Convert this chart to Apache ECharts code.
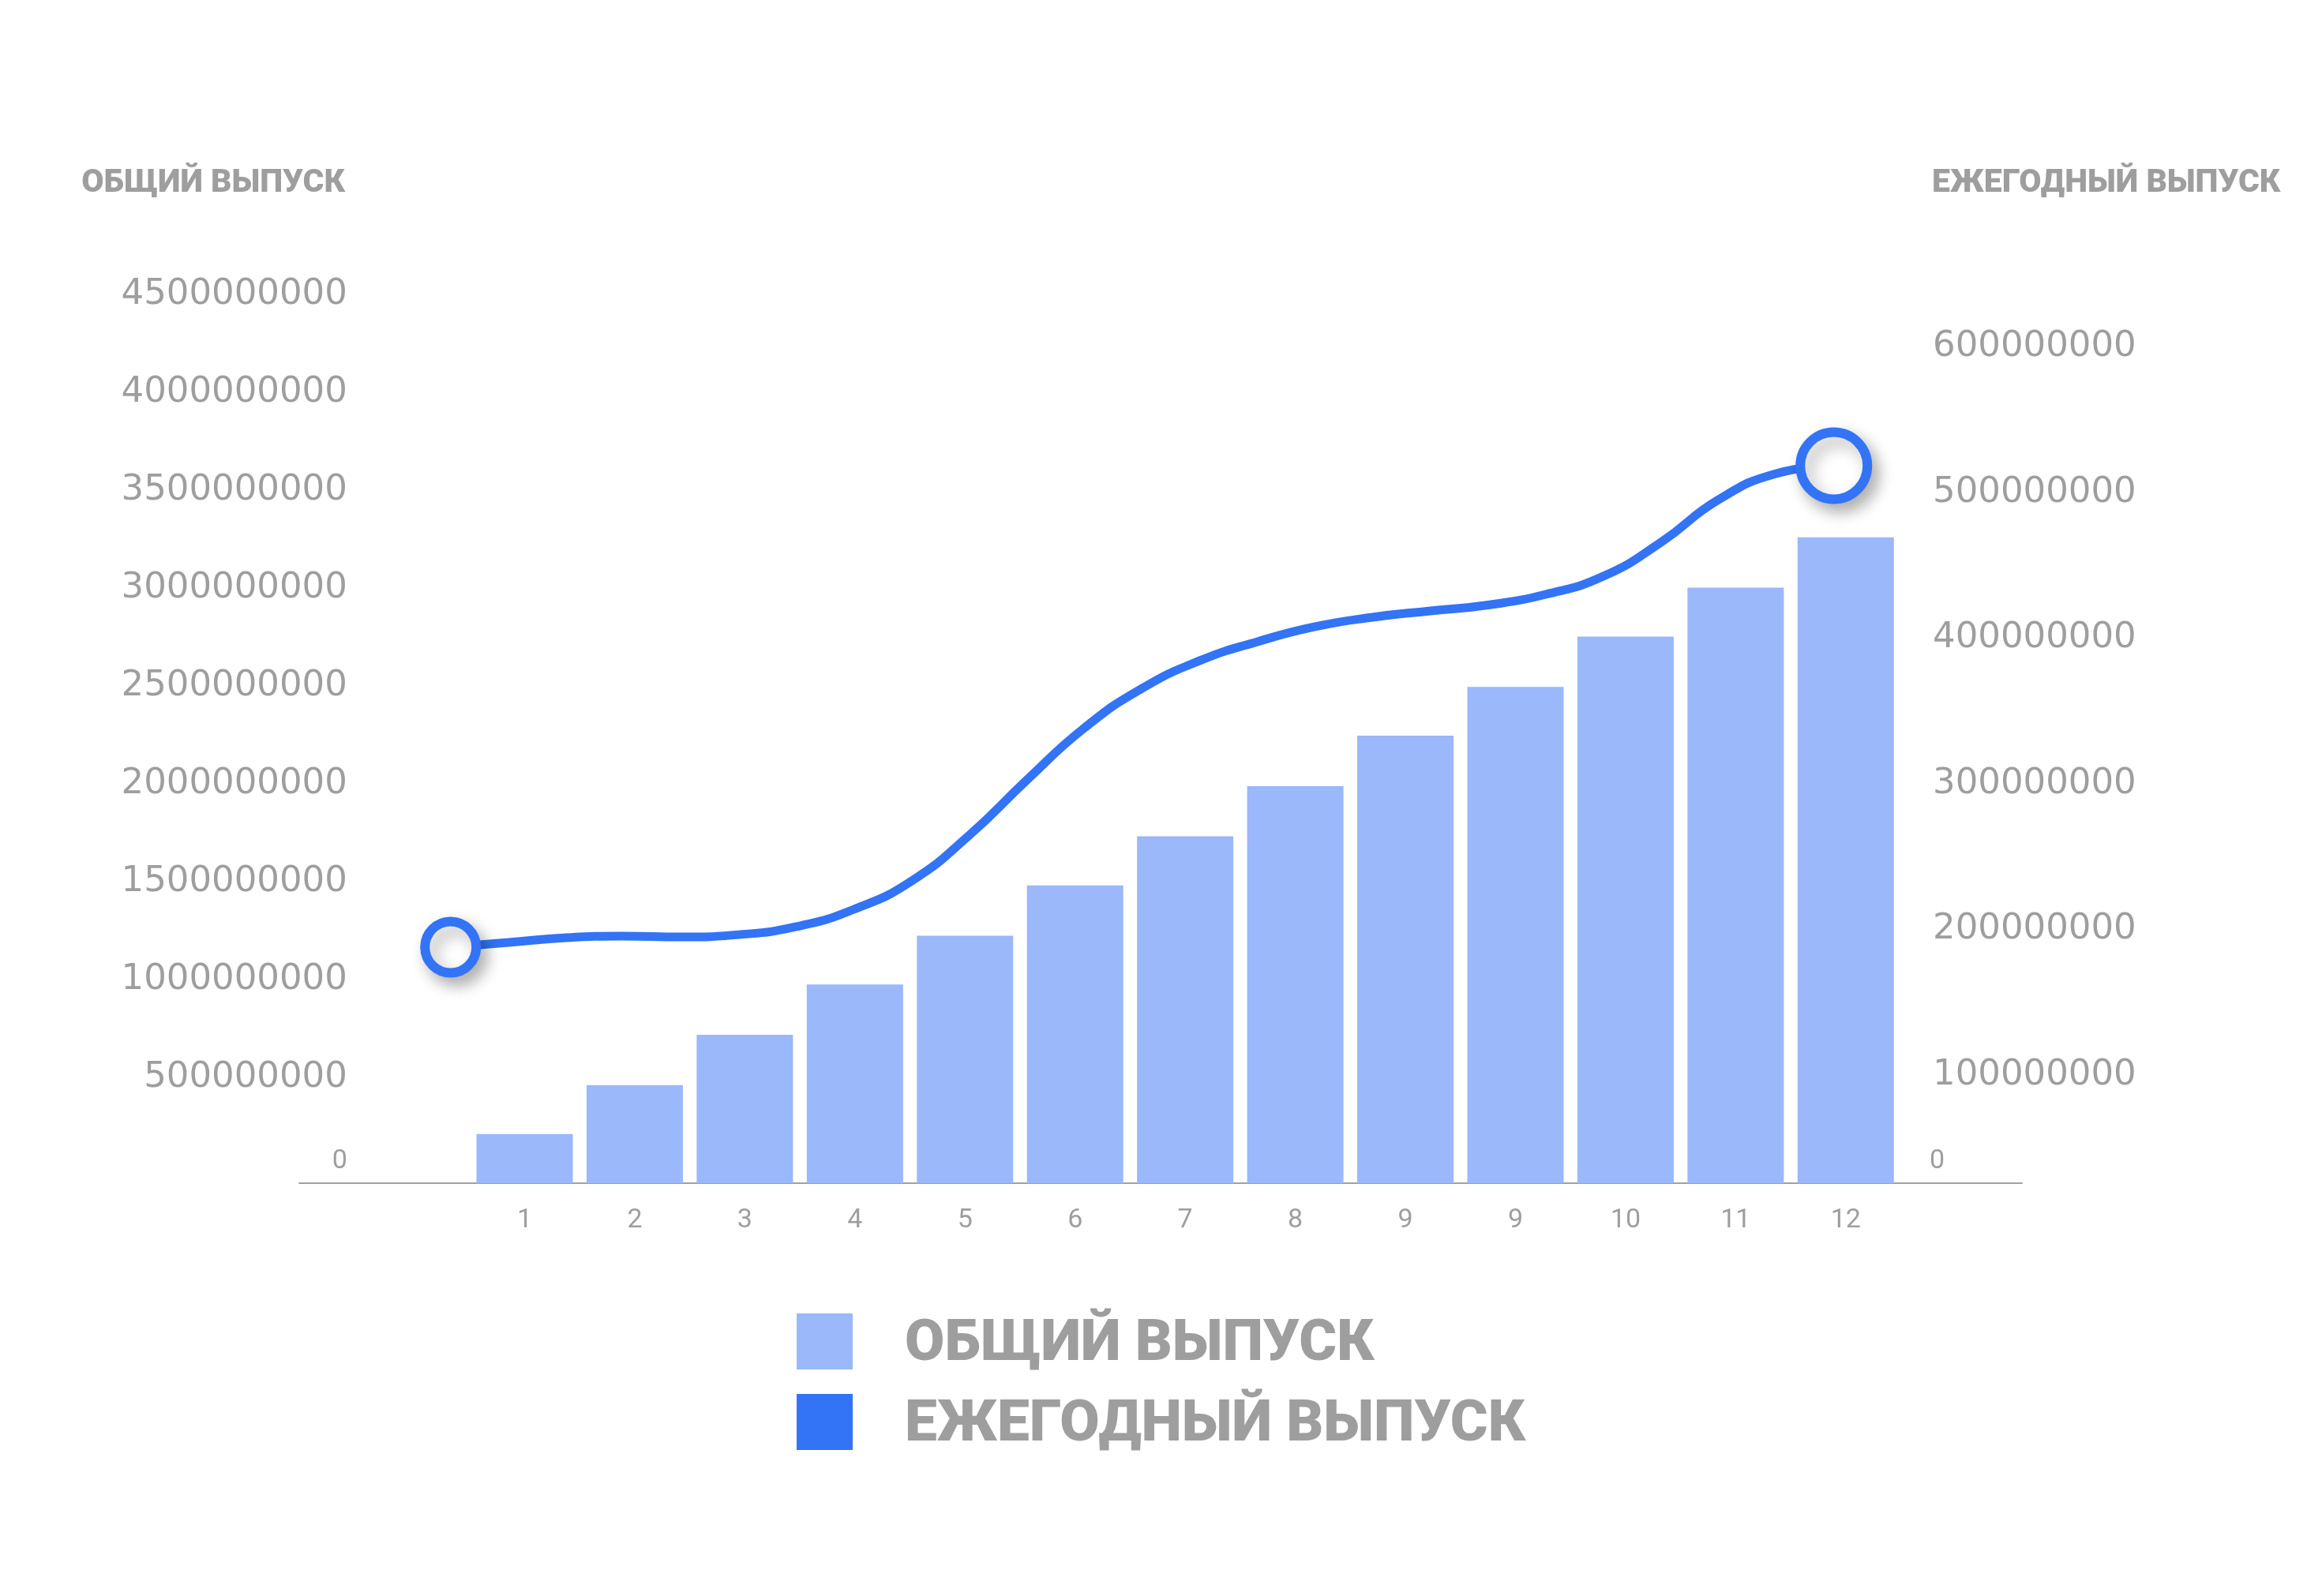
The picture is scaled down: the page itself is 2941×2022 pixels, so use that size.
<!DOCTYPE html>
<html><head><meta charset="utf-8">
<script src="https://cdn.jsdelivr.net/npm/echarts@6/dist/echarts.min.js"></script>
<style>html,body{margin:0;padding:0;background:#ffffff;} #c{width:2941px;height:2022px;}</style>
</head><body><div id="c"></div>
<script>
// ---- data ----
const categories = ['1','2','3','4','5','6','7','8','9','9','10','11','12'];
const totalOutput = [251e6, 501e6, 758e6, 1015e6, 1264e6, 1521e6, 1771e6, 2027e6, 2285e6, 2534e6, 2791e6, 3041e6, 3298e6];
// annual output curve, read at half-period steps (period 0 .. 12)
const annualX = [0, 0.5, 1, 1.5, 2, 2.5, 3, 3.5, 4, 4.5, 5, 5.5, 6, 6.5, 7, 7.5, 8, 8.5, 9, 9.5, 10, 10.5, 11, 11.5, 12];
const annualOutput = [184.6e6, 187.8e6, 191.1e6, 192.2e6, 191.6e6, 193.2e6, 198.7e6, 210.6e6, 230.1e6, 261.5e6,
  299.4e6, 335.2e6, 362.3e6, 381.3e6, 394.3e6, 404.6e6, 411.1e6, 415.4e6, 419.5e6, 426.8e6,
  439.2e6, 462.5e6, 491.8e6, 509.7e6, 515.1e6];
const leftTickValues = [0, 5e8, 1e9, 1.5e9, 2e9, 2.5e9, 3e9, 3.5e9, 4e9, 4.5e9];
const rightTickValues = [1e8, 2e8, 3e8, 4e8, 5e8, 6e8];
const rightZeroTick = [0];
const seriesNames = ['ОБЩИЙ ВЫПУСК', 'ЕЖЕГОДНЫЙ ВЫПУСК'];
const axisTitles = ['ОБЩИЙ ВЫПУСК', 'ЕЖЕГОДНЫЙ ВЫПУСК'];

// ---- style ----
const GRAY = '#9e9e9e';
const BAR = '#9ab8fa';
const BLUE = '#3373f6';
const NUM_FONT = 'DejaVu Sans';
const SMALL_FONT = 'Roboto';
const BOLD_FONT = 'Roboto';
const gridTop = 382.55, gridBottom = 523;

const chart = echarts.init(document.getElementById('c'), null, {renderer: 'canvas'});

const n = annualOutput.length;
const lineData = annualOutput.map((v, i) => {
  const first = i === 0, last = i === n - 1;
  if (!first && !last) return {value: [annualX[i], v], symbol: 'none'};
  return {
    value: [annualX[i], v], symbol: 'circle', symbolSize: first ? 65 : 85,
    itemStyle: {color: '#ffffff', borderColor: BLUE, borderWidth: 12,
      shadowBlur: 20, shadowColor: 'rgba(0,0,0,0.28)', shadowOffsetX: 8, shadowOffsetY: 10}
  };
});

const option = {
  backgroundColor: '#ffffff',
  animation: false,
  title: [
    {text: axisTitles[0], right: 2941 - 437, top: 212, padding: 0,
     textStyle: {fontFamily: BOLD_FONT, fontWeight: 900, fontSize: 41, color: GRAY, lineHeight: 42}},
    {text: axisTitles[1], left: 2447, top: 212, padding: 0,
     textStyle: {fontFamily: BOLD_FONT, fontWeight: 900, fontSize: 41, color: GRAY, lineHeight: 42}}
  ],
  legend: {
    orient: 'vertical', left: 1009, top: 1664, padding: 0,
    itemWidth: 71, itemHeight: 71, itemGap: 25, icon: 'rect', selectedMode: false,
    formatter: name => '{t|' + name + '}',
    textStyle: {fontFamily: BOLD_FONT, fontWeight: 900, fontSize: 73, color: GRAY, padding: [0, 0, 0, 61],
      rich: {t: {fontFamily: BOLD_FONT, fontWeight: 900, fontSize: 73, color: GRAY, padding: [10, 0, 0, 0]}}},
    data: seriesNames
  },
  grid: [
    {left: 594.8, right: 2941 - 2407.5, top: gridTop, bottom: gridBottom},
    {left: 497.7, right: 2941 - 2395.7, top: gridTop, bottom: gridBottom},
    {left: 379, right: 2941 - 2561, top: gridTop, bottom: gridBottom}
  ],
  xAxis: [
    {type: 'category', gridIndex: 0, data: categories, boundaryGap: true,
     axisLine: {show: false, onZero: false}, axisTick: {show: false}, splitLine: {show: false},
     axisLabel: {interval: 0, margin: 30, fontFamily: SMALL_FONT, fontSize: 34, color: GRAY}},
    {type: 'value', gridIndex: 1, min: -0.5, max: 12.5, show: false},
    {type: 'value', gridIndex: 2, min: 0, max: 1,
     axisLine: {show: true, onZero: false, lineStyle: {color: '#a0a0a0', width: 2}},
     axisTick: {show: false}, axisLabel: {show: false}, splitLine: {show: false}}
  ],
  yAxis: [
    {type: 'value', gridIndex: 0, position: 'left', min: leftTickValues[0], max: leftTickValues[leftTickValues.length - 1],
     interval: leftTickValues[1] - leftTickValues[0],
     axisLine: {show: false}, axisTick: {show: false}, splitLine: {show: false},
     axisLabel: {margin: 155, fontFamily: NUM_FONT, fontSize: 45, color: GRAY, padding: [0, 0, 19, 0],
       formatter: v => v === 0 ? '{z|0}' : String(v),
       rich: {z: {fontFamily: SMALL_FONT, fontSize: 34, color: GRAY, padding: [0, 0, 37, 0]}}}},
    {type: 'value', gridIndex: 1, position: 'right', min: 22.6e6, max: 627.5e6,
     axisLine: {show: false}, axisTick: {show: false}, splitLine: {show: false},
     axisLabel: {customValues: rightTickValues, margin: 52.3,
       formatter: v => '{n|' + v + '}',
       rich: {n: {fontFamily: NUM_FONT, fontSize: 45, color: GRAY, padding: [12, 0, 0, 0]}}}},
    {type: 'value', gridIndex: 0, position: 'right', min: leftTickValues[0], max: leftTickValues[leftTickValues.length - 1],
     axisLine: {show: false}, axisTick: {show: false}, splitLine: {show: false},
     axisLabel: {customValues: rightZeroTick, margin: 36.5,
       formatter: v => '{z|' + v + '}',
       rich: {z: {fontFamily: SMALL_FONT, fontSize: 34, color: GRAY, padding: [0, 0, 56, 0]}}}},
    {type: 'value', gridIndex: 2, show: false}
  ],
  series: [
    {name: seriesNames[0], type: 'bar', xAxisIndex: 0, yAxisIndex: 0, data: totalOutput,
     barWidth: '87.5%', itemStyle: {color: BAR}, z: 2},
    {name: seriesNames[1], type: 'line', xAxisIndex: 1, yAxisIndex: 1, data: lineData,
     smooth: true, showSymbol: true, symbol: 'circle', clip: false,
     lineStyle: {color: BLUE, width: 11}, itemStyle: {color: BLUE}, z: 3,
     emphasis: {disabled: true}}
  ]
};
chart.setOption(option);
</script>
</body></html>
